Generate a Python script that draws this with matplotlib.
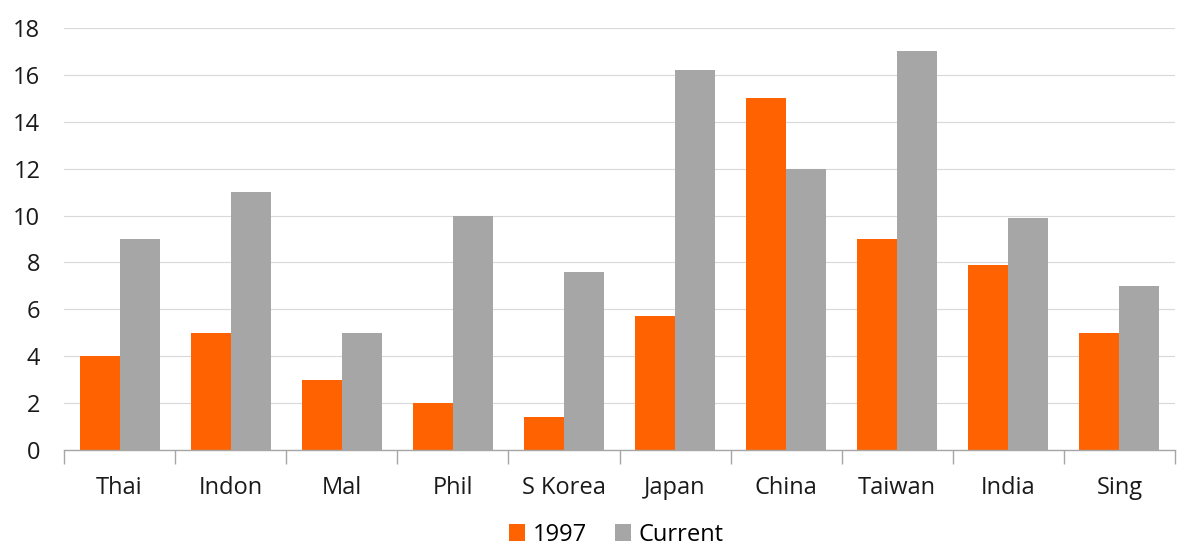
import matplotlib
matplotlib.use("Agg")
import matplotlib.pyplot as plt
import numpy as np

plt.rcParams['font.family'] = ['Open Sans', 'DejaVu Sans']

countries = ["Thai", "Indon", "Mal", "Phil", "S Korea", "Japan", "China", "Taiwan", "India", "Sing"]
y1997 = [4.0, 5.0, 3.0, 2.0, 1.4, 5.7, 15.0, 9.0, 7.9, 5.0]
current = [9.0, 11.0, 5.0, 10.0, 7.6, 16.2, 12.0, 17.0, 9.9, 7.0]

orange = "#FF6200"
grey = "#A6A6A6"

fig = plt.figure(figsize=(12, 5.52), dpi=100)
ax = fig.add_axes([64/1200, 102/552, 1111/1200, 422/552])

x = np.arange(len(countries))
w = 0.36
ax.bar(x - w/2, y1997, width=w, color=orange, label="1997", zorder=2)
ax.bar(x + w/2, current, width=w, color=grey, label="Current", zorder=2)

ax.set_xlim(-0.5, len(countries) - 0.5)
ax.set_ylim(0, 18)
ax.set_yticks(range(0, 19, 2))
ax.grid(axis='y', color='#D9D9D9', linewidth=0.8, zorder=0)

ax.set_xticks(x)
ax.set_xticklabels(countries)
ax.set_xticks(np.arange(-0.5, len(countries), 1), minor=True)
ax.tick_params(axis='x', which='major', length=0, pad=19, labelsize=17, colors='#1a1a1a')
ax.tick_params(axis='x', which='minor', length=10, width=1, color='#A6A6A6', direction='out')
ax.tick_params(axis='y', length=0, pad=17, labelsize=17, colors='#1a1a1a')

for s in ['top', 'right', 'left']:
    ax.spines[s].set_visible(False)
ax.spines['bottom'].set_color('#A6A6A6')
ax.spines['bottom'].set_linewidth(1)

ax.legend(loc='upper center', bbox_to_anchor=(0.497, -0.122), ncol=2, frameon=False,
          fontsize=17, handlelength=0.7, handleheight=0.7, handletextpad=0.3, columnspacing=1.2)

fig.savefig("out.png", dpi=100)
